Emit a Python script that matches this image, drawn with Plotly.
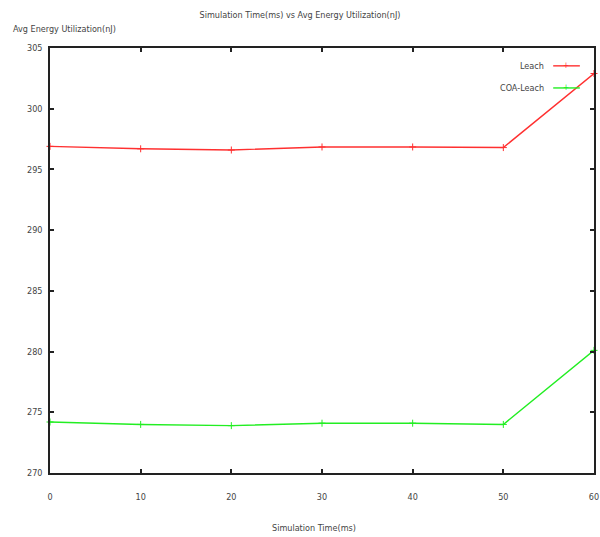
import plotly.graph_objects as go

# Simulation time (ms)
sim_time = [0, 10, 20, 30, 40, 50, 60]

# Average energy utilization (nJ)
leach = [296.9, 296.7, 296.6, 296.85, 296.85, 296.8, 302.9]
coa_leach = [274.2, 274.0, 273.9, 274.1, 274.1, 274.0, 280.1]

series_names = ["Leach", "COA-Leach"]
series_colors = ["#ff3030", "#22ee22"]

x_ticks = [0, 10, 20, 30, 40, 50, 60]
y_ticks = [270, 275, 280, 285, 290, 295, 300, 305]

FONT = "DejaVu Sans Condensed"
TXT = "#444444"

fig = go.Figure()
for name, ys, col in zip(series_names, [leach, coa_leach], series_colors):
    fig.add_trace(go.Scatter(
        x=sim_time, y=ys, name=name, mode="lines+markers",
        line=dict(color=col, width=1.4),
        marker=dict(symbol="cross-thin", size=5, line=dict(color=col, width=1)),
        cliponaxis=False, showlegend=False,
    ))

axis_common = dict(
    showgrid=False, zeroline=False, showline=True, linecolor="#222222",
    linewidth=1.5, mirror="ticks", ticks="inside", ticklen=4,
    tickcolor="#222222", tickwidth=1.5, automargin=False,
    tickfont=dict(family=FONT, size=9, color=TXT),
)

fig.update_xaxes(range=[0, 60], tickvals=x_ticks, ticklabelstandoff=14, **axis_common)
fig.update_yaxes(range=[270, 305], tickvals=y_ticks, ticklabelstandoff=4, **axis_common)

# Key box: label right-aligned, followed by a short line sample with a "+" mark
legend_y = [0.958, 0.906]
for name, col, ly in zip(series_names, series_colors, legend_y):
    fig.add_annotation(
        xref="paper", yref="paper", x=0.912, y=ly, text=name,
        showarrow=False, xanchor="right", yanchor="middle",
        font=dict(family=FONT, size=9, color=TXT),
    )
    fig.add_shape(type="line", xref="paper", yref="paper",
                  x0=0.925, x1=0.974, y0=ly, y1=ly,
                  line=dict(color=col, width=1.4))
    fig.add_annotation(
        xref="paper", yref="paper", x=0.949, y=ly, text="+",
        showarrow=False, xanchor="center", yanchor="middle",
        font=dict(family=FONT, size=8, color=col),
    )

fig.update_layout(
    width=600, height=537,
    margin=dict(l=50, r=6, t=48, b=64, autoexpand=False),
    paper_bgcolor="white", plot_bgcolor="white",
    title=dict(text="Simulation Time(ms) vs Avg Energy Utilization(nJ)",
               x=0.5, xanchor="center", y=0.972, yanchor="middle",
               font=dict(family=FONT, size=9, color=TXT)),
    showlegend=False,
)

fig.add_annotation(xref="paper", yref="paper", x=-0.072, y=1.045,
                   text="Avg Energy Utilization(nJ)", showarrow=False,
                   xanchor="left", yanchor="middle",
                   font=dict(family=FONT, size=9, color=TXT))
fig.add_annotation(xref="paper", yref="paper", x=0.485, y=-0.13,
                   text="Simulation Time(ms)", showarrow=False,
                   xanchor="center", yanchor="middle",
                   font=dict(family=FONT, size=9, color=TXT))

fig.write_html("out.html")
